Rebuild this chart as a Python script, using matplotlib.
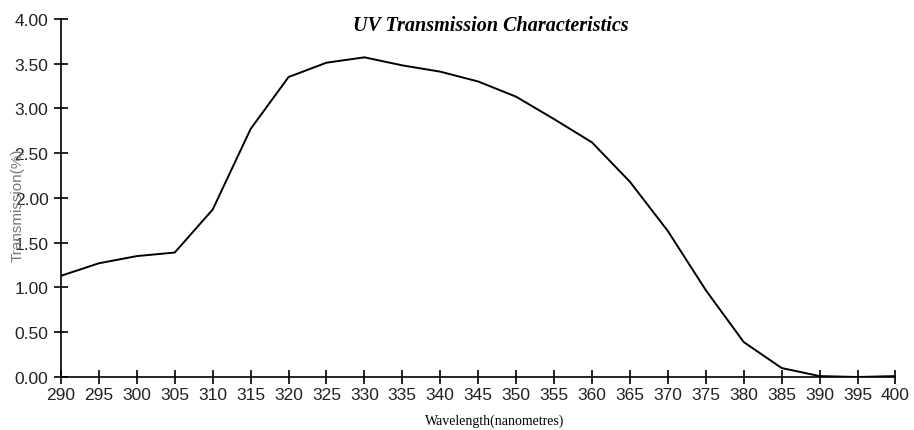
import matplotlib
matplotlib.use("Agg")
import matplotlib.pyplot as plt

# wavelength (nm) and transmission (%)
wavelength = [290, 295, 300, 305, 310, 315, 320, 325, 330, 335, 340,
              345, 350, 355, 360, 365, 370, 375, 380, 385, 390, 395, 400]
transmission = [1.13, 1.27, 1.35, 1.39, 1.87, 2.77, 3.35, 3.51, 3.57, 3.48, 3.41,
                3.30, 3.13, 2.88, 2.62, 2.18, 1.63, 0.97, 0.39, 0.10, 0.01, 0.0, 0.01]
y_ticks = [0, 0.5, 1.0, 1.5, 2.0, 2.5, 3.0, 3.5, 4.0]

fig = plt.figure(figsize=(9.14, 4.31), dpi=100)
ax = fig.add_axes((0.0667, 0.123, 0.913, 0.831))

ax.plot(wavelength, transmission, color='black', linewidth=1.4)

ax.set_xlim(290, 400)
ax.set_ylim(0, 4.0)
ax.set_xticks(wavelength)
ax.set_yticks(y_ticks)
ax.set_yticklabels([f'{v:.2f}' for v in y_ticks])

for side in ('top', 'right'):
    ax.spines[side].set_visible(False)
for side in ('left', 'bottom'):
    ax.spines[side].set_linewidth(1.2)

ax.tick_params(direction='inout', length=10, width=1.2, labelsize=12.5)
ax.tick_params(axis='x', pad=2)
ax.tick_params(axis='y', pad=4)
for lbl in ax.get_xticklabels() + ax.get_yticklabels():
    lbl.set_fontfamily('Liberation Sans')
    lbl.set_color('#222222')

fig.text(0.537, 0.94, 'UV Transmission Characteristics',
         ha='center', va='center', fontsize=14.5, fontstyle='italic', fontweight='bold',
         family='Liberation Serif')

fig.text(0.541, 0.008, 'Wavelength(nanometres)', ha='center', va='bottom',
         fontsize=10, family='Liberation Serif')
# the reference draws this label over the tick labels
fig.text(0.019, 0.524, 'Transmission(%)', rotation=90, ha='center', va='center',
         fontsize=11, family='Liberation Sans', color='#777777')

fig.savefig('out.png', dpi=100)
